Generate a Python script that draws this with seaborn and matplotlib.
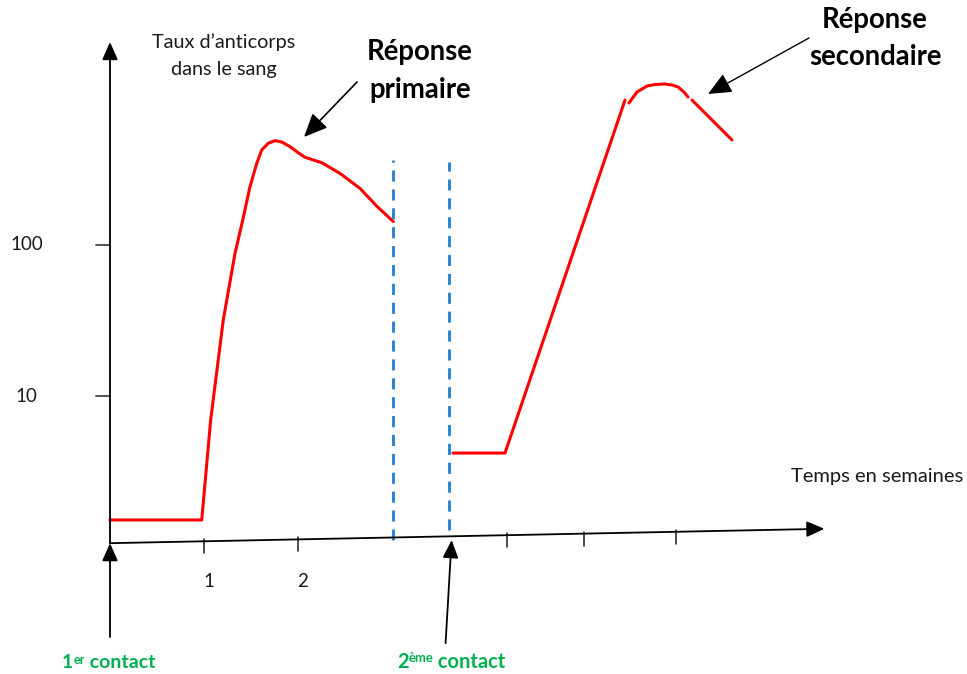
import numpy as np
import pandas as pd
import seaborn as sns
import matplotlib.pyplot as plt

# antibody level (log scale) against time in weeks
primary_weeks = [0, 0.976, 1.071, 1.205, 1.330, 1.412, 1.489, 1.561, 1.614, 1.684,
                 1.755, 1.827, 1.915, 2.003, 2.074, 2.252, 2.447, 2.660, 2.837, 3.014]
primary_level = [1.51, 1.51, 6.94, 31.9, 88.1, 146, 243, 347, 426, 472,
                 491, 481, 448, 408, 381, 351, 298, 237, 181, 143]

secondary_weeks = [3.649, 4.202, 5.479,
                   5.521, 5.606, 5.660, 5.713, 5.798, 5.904, 5.979, 6.043, 6.106, 6.149,
                   6.191, 6.617]
secondary_level = [4.19, 4.19, 912,
                   872, 1031, 1079, 1130, 1156, 1165, 1147, 1113, 1031, 955,
                   912, 496]
secondary_segment = [0, 0, 0,
                     1, 1, 1, 1, 1, 1, 1, 1, 1, 1,
                     2, 2]

contact_weeks = [3.01, 3.606]          # dashed markers
contact_top = [365, 355]
contact_bottom = [1.11, 1.30]

x_tick_weeks = [1, 2, 4.22, 5.04, 6.02]
x_tick_labels = ["1", "2", "", "", ""]
y_tick_levels = [100, 10]
y_tick_labels = ["100", "10"]

RED = "#ff0000"
BLUE = "#1f7ed0"
GREEN = "#00b050"
INK = "#1a1a1a"

sns.set_theme(style="white")
plt.rcParams["font.family"] = ["Lato", "DejaVu Sans"]

fig = plt.figure(figsize=(9.67, 6.74), dpi=100)
ax = fig.add_axes([0, 0, 1, 1])
ax.set_yscale("log")
ax.set_xlim(-110 / 94, 857 / 94)
ax.set_ylim(10 ** (2 - 429 / 151), 10 ** (2 + 245 / 151))
ax.axis("off")

primary = pd.DataFrame({"week": primary_weeks, "level": primary_level})
secondary = pd.DataFrame({"week": secondary_weeks, "level": secondary_level,
                          "segment": secondary_segment})

sns.lineplot(data=primary, x="week", y="level", sort=False, estimator=None,
             color=RED, lw=2.2, ax=ax, solid_joinstyle="round")
sns.lineplot(data=secondary, x="week", y="level", units="segment", sort=False,
             estimator=None, color=RED, lw=2.2, ax=ax, solid_joinstyle="round")

for w, top, bot in zip(contact_weeks, contact_top, contact_bottom):
    ax.plot([w, w], [bot, top], color=BLUE, lw=2, dashes=(4, 2.8))


def arrow(tail, tip, lw=1.1, ms=12):
    ax.annotate("", xy=tip, xytext=tail,
                arrowprops=dict(arrowstyle="-|>,head_length=0.9,head_width=0.4",
                                color="black", lw=lw, mutation_scale=ms,
                                shrinkA=0, shrinkB=0))


# axes drawn by hand (slanted time axis)
x_start, x_end = (0, 1.06), (7.6, 1.32)


def baseline(w):
    t = (w - x_start[0]) / (x_end[0] - x_start[0])
    return 10 ** (np.log10(x_start[1]) + t * (np.log10(x_end[1]) - np.log10(x_start[1])))


arrow(x_start, x_end, lw=1.3)
arrow((0, 1.06), (0, 2208), lw=1.3)
arrow((0, 0.2535), (0, 1.06), lw=1.3)
arrow((3.570, 0.231), (3.634, 1.11), lw=1.3)

for w, lab in zip(x_tick_weeks, x_tick_labels):
    b = baseline(w)
    ax.plot([w, w], [b * 10 ** (2 / 151), b / 10 ** (12 / 151)], color=INK, lw=1.1)
    if lab:
        ax.text(w + 0.05, 0.595, lab, ha="center", va="center", fontsize=13.5, color=INK)

for lev, lab in zip(y_tick_levels, y_tick_labels):
    ax.plot([-0.149, 0], [lev, lev], color="#444444", lw=1.3)
    ax.text(-0.89, lev, lab, ha="center", va="center", fontsize=13.5, color=INK)

ax.text(1.207, 2208, "Taux d’anticorps", ha="center", va="center", fontsize=14.3, color=INK)
ax.text(1.207, 1443, "dans le sang", ha="center", va="center", fontsize=14.3, color=INK)
ax.text(8.16, 2.91, "Temps en semaines", ha="center", va="center", fontsize=14.5, color=INK)

ax.text(3.298, 1897, "Réponse", ha="center", va="center", fontsize=19.8,
        fontweight="bold", color="black")
ax.text(3.298, 1063, "primaire", ha="center", va="center", fontsize=19.8,
        fontweight="bold", color="black")
ax.text(8.138, 3090, "Réponse", ha="center", va="center", fontsize=19.8,
        fontweight="bold", color="black")
ax.text(8.145, 1758, "secondaire", ha="center", va="center", fontsize=19.8,
        fontweight="bold", color="black")

arrow((2.628, 1201), (2.064, 519), lw=1.2, ms=16)
arrow((7.436, 2350), (6.362, 1000), lw=1.0, ms=16)


def contact_label(w, num, sup, size):
    t1 = ax.text(w, 0.173, num, ha="left", va="center", fontsize=size,
                 fontweight="bold", color=GREEN)
    t2 = ax.annotate(sup, xy=(1, 1), xycoords=t1, ha="left", va="top",
                     fontsize=size * 0.65, fontweight="bold", color=GREEN)
    ax.annotate(" contact", xy=(1, 0), xycoords=(t2, t1), ha="left", va="bottom",
                fontsize=size, fontweight="bold", color=GREEN)


contact_label(-0.511, "1", "er", 14)
contact_label(3.053, "2", "ème", 14.5)

fig.savefig("out.png", dpi=100)
